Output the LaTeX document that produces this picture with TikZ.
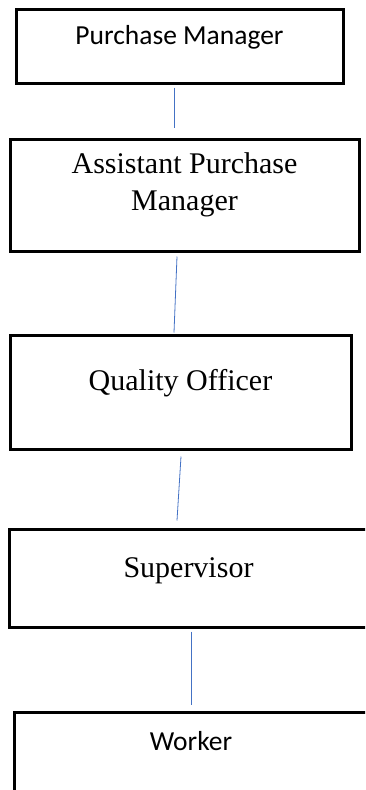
\documentclass[tikz,border=0pt]{standalone}
\usepackage{fontspec}
\setmainfont{Liberation Serif}
\newfontfamily\calibri{Carlito}
\usetikzlibrary{positioning}

\tikzset{
    post/.style={draw=black, line width=3pt, inner sep=0pt, rectangle},
    link/.style={draw={rgb,255:red,68;green,114;blue,196}, line width=0.8pt},
    serifname/.style={font=\fontsize{30}{36.5}\selectfont, align=center, inner sep=0pt},
    sansname/.style={font=\calibri\fontsize{27.5}{33}\selectfont, inner sep=0pt}
}

\begin{document}
\begin{tikzpicture}[x=1pt,y=-1pt]
    \useasboundingbox (0,0) rectangle (365,790);
    \clip (0,0) rectangle (365,790);

    \node[post, minimum width=327pt, minimum height=74pt] (pm) at (179.5,46) {};
    \node[sansname, anchor=base] (pmtext) at ([yshift=-37pt]pm.north) {Purchase Manager};

    \node[post, minimum width=349pt, minimum height=112pt] (apm) at (184.5,195) {};
    \node[serifname, anchor=north] (apmtext) at ([yshift=-15pt]apm.north) {Assistant Purchase\\Manager};

    \node[post, minimum width=341pt, minimum height=114pt] (qo) at (180.5,392) {};
    \node[serifname, anchor=base] (qotext) at ([yshift=-57pt]qo.north) {Quality Officer};

    \node[post, minimum width=359pt, minimum height=98pt] (sup) at (188.5,578) {};
    \node[serifname, anchor=base] (suptext) at ([yshift=-50pt]sup.north) {Supervisor};

    \node[post, minimum width=354pt, minimum height=100pt] (wk) at (191,762) {};
    \node[sansname, anchor=base] (wktext) at ([yshift=-40pt]wk.north) {Worker};

    % connectors
    \draw[link] ([xshift=-5.5pt,yshift=-3pt]pm.south) -- ([xshift=-10.5pt,yshift=10pt]apm.north);
    \draw[link] ([xshift=-7.5pt,yshift=-4pt]apm.south) -- ([xshift=-6.5pt,yshift=1pt]qo.north);
    \draw[link] ([xshift=0.5pt,yshift=-6pt]qo.south) -- ([xshift=-11.5pt,yshift=7pt]sup.north);
    \draw[link] ([xshift=2.5pt,yshift=-3pt]sup.south) -- ([xshift=0pt,yshift=6pt]wk.north);
\end{tikzpicture}
\end{document}
